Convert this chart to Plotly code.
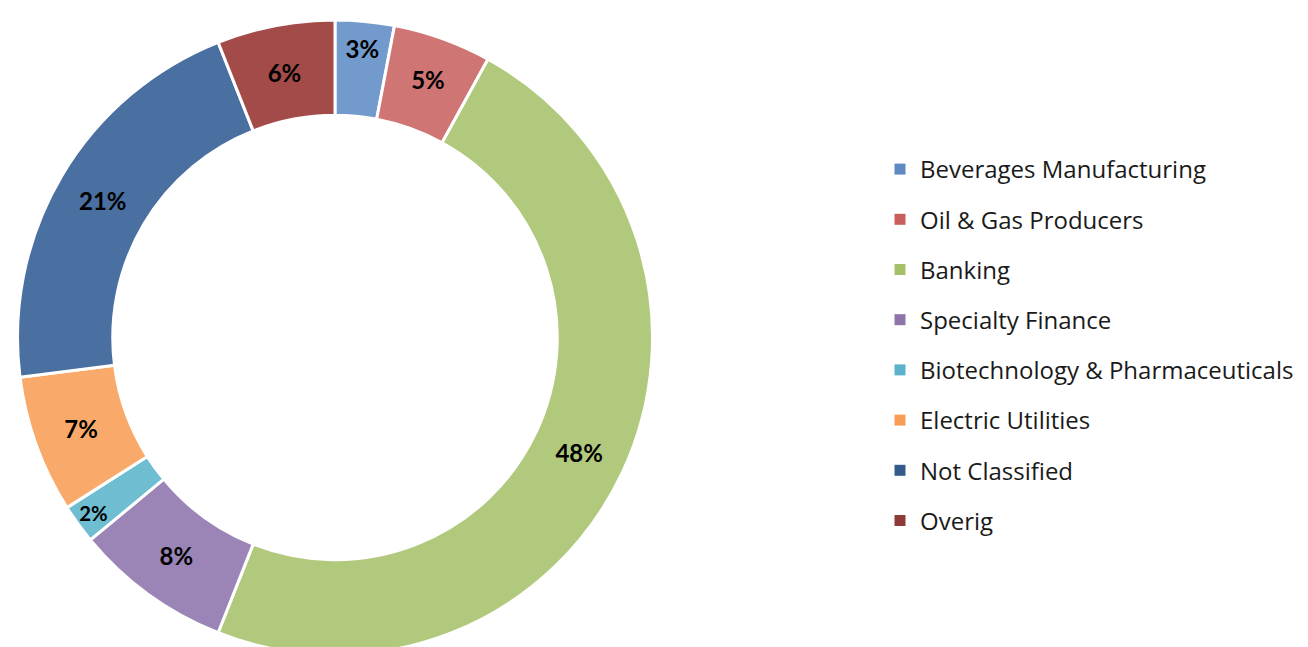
import plotly.graph_objects as go

categories = ["Beverages Manufacturing", "Oil & Gas Producers", "Banking",
              "Specialty Finance", "Biotechnology & Pharmaceuticals",
              "Electric Utilities", "Not Classified", "Overig"]
values = [3, 5, 48, 8, 2, 7, 21, 6]
slice_colors = ["#729ACC", "#CF7674", "#B1C97C", "#9B85B7",
                "#6EBDD1", "#F9AA6A", "#4A6FA1", "#A24B48"]
legend_colors = ["#5F89C3", "#C95F5C", "#A5C168", "#8E74AB",
                 "#5BB4CC", "#F89D56", "#365A89", "#8E3A37"]

W, H = 1308, 647
cx, cy, r = 327, 329.5, 317.5

def clamp(v):
    return min(1.0, max(0.0, v))

fig = go.Figure()
fig.add_trace(go.Pie(
    labels=categories, values=values, sort=False, direction="clockwise",
    rotation=0, hole=0.70,
    marker=dict(colors=slice_colors, line=dict(color="white", width=3)),
    texttemplate="<b>%{percent:.0%}</b>", textposition="inside",
    insidetextorientation="horizontal",
    textfont=dict(family="Lato", size=24, color="black"),
    domain=dict(x=[clamp((cx - r) / W), clamp((cx + r) / W)],
                y=[clamp((H - cy - r) / H), clamp((H - cy + r) / H)]),
    showlegend=False, hoverinfo="label+percent",
))
for name, col in zip(categories, legend_colors):
    fig.add_trace(go.Scatter(
        x=[None], y=[None], mode="markers", name=name, legendgroup=name,
        marker=dict(symbol="square", size=11, color=col),
    ))

fig.update_layout(
    width=W, height=H, margin=dict(l=0, r=0, t=0, b=0),
    paper_bgcolor="white", plot_bgcolor="white",
    xaxis=dict(visible=False), yaxis=dict(visible=False),
    legend=dict(x=872 / W, y=(H - 139) / H, xanchor="left", yanchor="top",
                font=dict(family="Open Sans", size=24, color="#1a1a1a"),
                tracegroupgap=16, bgcolor="rgba(0,0,0,0)"),
    font=dict(family="Lato"),
)
fig.write_html("out.html")
